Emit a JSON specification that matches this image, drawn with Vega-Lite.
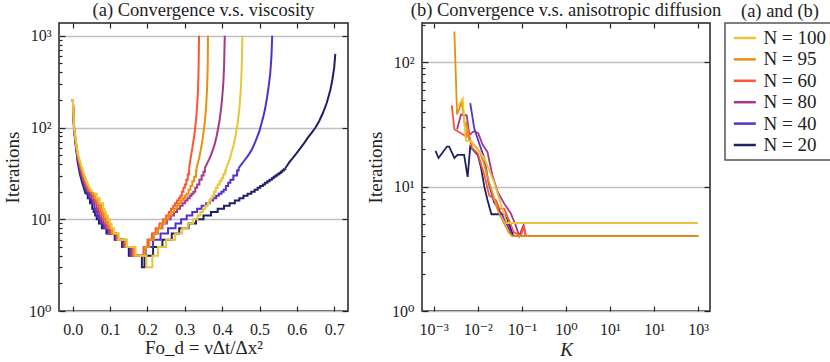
{
  "$schema": "https://vega.github.io/schema/vega-lite/v6.json",
  "padding": {"left": 2, "top": 0, "right": 0, "bottom": 0},
  "config": {
    "font": "Liberation Serif, DejaVu Serif, serif",
    "view": {"stroke": "#222", "strokeWidth": 1.5},
    "text": {"font": "Liberation Serif, DejaVu Serif, serif"},
    "axis": {"labelFont": "Liberation Serif, DejaVu Serif, serif", "labelFontSize": 16, "labelColor": "#222", "titleFont": "Liberation Serif, DejaVu Serif, serif", "titleFontSize": 19, "titleFontWeight": "normal", "titleColor": "#222", "domain": false, "tickColor": "#222", "tickWidth": 1.2, "gridColor": "#c0c0c0", "gridWidth": 1.5},
    "title": {"font": "Liberation Serif, DejaVu Serif, serif", "fontSize": 18.5, "fontWeight": "normal", "color": "#222", "offset": 3}
  },
  "datasets": {
    "visc": [
      {"s":"N = 20","x":0,"y":205},{"s":"N = 20","x":0.001,"y":160},{"s":"N = 20","x":0.002,"y":128},{"s":"N = 20","x":0.003,"y":100},{"s":"N = 20","x":0.005,"y":82},{"s":"N = 20","x":0.007,"y":68},{"s":"N = 20","x":0.009,"y":58},{"s":"N = 20","x":0.011,"y":50},{"s":"N = 20","x":0.013,"y":42},{"s":"N = 20","x":0.016,"y":36},{"s":"N = 20","x":0.019,"y":31},{"s":"N = 20","x":0.022,"y":28},{"s":"N = 20","x":0.025,"y":25},{"s":"N = 20","x":0.028,"y":23},{"s":"N = 20","x":0.031,"y":21},{"s":"N = 20","x":0.034,"y":19},{"s":"N = 20","x":0.04,"y":17},{"s":"N = 20","x":0.046,"y":15},{"s":"N = 20","x":0.052,"y":13},{"s":"N = 20","x":0.056,"y":12},{"s":"N = 20","x":0.06,"y":11},{"s":"N = 20","x":0.064,"y":10},{"s":"N = 20","x":0.07,"y":9},{"s":"N = 20","x":0.078,"y":8},{"s":"N = 20","x":0.09,"y":7},{"s":"N = 20","x":0.112,"y":6},{"s":"N = 20","x":0.132,"y":5},{"s":"N = 20","x":0.15,"y":4},{"s":"N = 20","x":0.185,"y":3},{"s":"N = 20","x":0.192,"y":4},{"s":"N = 20","x":0.215,"y":5},{"s":"N = 20","x":0.24,"y":6},{"s":"N = 20","x":0.265,"y":7},{"s":"N = 20","x":0.285,"y":8},{"s":"N = 20","x":0.31,"y":9},{"s":"N = 20","x":0.33,"y":10},{"s":"N = 20","x":0.35,"y":11},{"s":"N = 20","x":0.37,"y":12},{"s":"N = 20","x":0.388,"y":13},{"s":"N = 20","x":0.405,"y":14},{"s":"N = 20","x":0.42,"y":15},{"s":"N = 20","x":0.434,"y":16},{"s":"N = 20","x":0.446,"y":17},{"s":"N = 20","x":0.457,"y":18},{"s":"N = 20","x":0.468,"y":19},{"s":"N = 20","x":0.478,"y":20},{"s":"N = 20","x":0.487,"y":21},{"s":"N = 20","x":0.495,"y":22},{"s":"N = 20","x":0.502,"y":23},{"s":"N = 20","x":0.509,"y":24},{"s":"N = 20","x":0.515,"y":25},{"s":"N = 20","x":0.521,"y":26},{"s":"N = 20","x":0.527,"y":27},{"s":"N = 20","x":0.533,"y":28},{"s":"N = 20","x":0.538,"y":29},{"s":"N = 20","x":0.543,"y":30},{"s":"N = 20","x":0.548,"y":31},{"s":"N = 20","x":0.553,"y":32},{"s":"N = 20","x":0.557,"y":33},{"s":"N = 20","x":0.561,"y":34},{"s":"N = 20","x":0.565,"y":35},{"s":"N = 20","x":0.569,"y":36},{"s":"N = 20","x":0.575,"y":39},{"s":"N = 20","x":0.58,"y":42},{"s":"N = 20","x":0.59,"y":47},{"s":"N = 20","x":0.6,"y":53},{"s":"N = 20","x":0.61,"y":60},{"s":"N = 20","x":0.62,"y":68},{"s":"N = 20","x":0.63,"y":78},{"s":"N = 20","x":0.64,"y":88},{"s":"N = 20","x":0.65,"y":100},{"s":"N = 20","x":0.66,"y":118},{"s":"N = 20","x":0.67,"y":145},{"s":"N = 20","x":0.68,"y":185},{"s":"N = 20","x":0.69,"y":260},{"s":"N = 20","x":0.695,"y":330},{"s":"N = 20","x":0.7,"y":450},{"s":"N = 20","x":0.703,"y":637},
      {"s":"N = 40","x":0,"y":205},{"s":"N = 40","x":0.0011,"y":160},{"s":"N = 40","x":0.0021,"y":128},{"s":"N = 40","x":0.0032,"y":100},{"s":"N = 40","x":0.0053,"y":82},{"s":"N = 40","x":0.0074,"y":68},{"s":"N = 40","x":0.0095,"y":58},{"s":"N = 40","x":0.0117,"y":50},{"s":"N = 40","x":0.0144,"y":42},{"s":"N = 40","x":0.0178,"y":36},{"s":"N = 40","x":0.0212,"y":31},{"s":"N = 40","x":0.0244,"y":28},{"s":"N = 40","x":0.0278,"y":25},{"s":"N = 40","x":0.031,"y":23},{"s":"N = 40","x":0.0344,"y":21},{"s":"N = 40","x":0.0384,"y":19},{"s":"N = 40","x":0.0448,"y":17},{"s":"N = 40","x":0.0512,"y":15},{"s":"N = 40","x":0.0578,"y":13},{"s":"N = 40","x":0.0618,"y":12},{"s":"N = 40","x":0.0658,"y":11},{"s":"N = 40","x":0.07,"y":10},{"s":"N = 40","x":0.0758,"y":9},{"s":"N = 40","x":0.0832,"y":8},{"s":"N = 40","x":0.094,"y":7},{"s":"N = 40","x":0.1142,"y":6},{"s":"N = 40","x":0.1346,"y":5},{"s":"N = 40","x":0.1536,"y":4},{"s":"N = 40","x":0.195,"y":5},{"s":"N = 40","x":0.215,"y":6},{"s":"N = 40","x":0.235,"y":7},{"s":"N = 40","x":0.255,"y":8},{"s":"N = 40","x":0.275,"y":9},{"s":"N = 40","x":0.29,"y":10},{"s":"N = 40","x":0.305,"y":11},{"s":"N = 40","x":0.32,"y":12},{"s":"N = 40","x":0.333,"y":13},{"s":"N = 40","x":0.345,"y":14},{"s":"N = 40","x":0.357,"y":15},{"s":"N = 40","x":0.367,"y":16},{"s":"N = 40","x":0.376,"y":17},{"s":"N = 40","x":0.384,"y":18},{"s":"N = 40","x":0.391,"y":19},{"s":"N = 40","x":0.398,"y":20},{"s":"N = 40","x":0.404,"y":21},{"s":"N = 40","x":0.41,"y":23},{"s":"N = 40","x":0.416,"y":25},{"s":"N = 40","x":0.422,"y":27},{"s":"N = 40","x":0.43,"y":30},{"s":"N = 40","x":0.44,"y":34},{"s":"N = 40","x":0.444,"y":36},{"s":"N = 40","x":0.45,"y":39},{"s":"N = 40","x":0.46,"y":44},{"s":"N = 40","x":0.467,"y":48},{"s":"N = 40","x":0.473,"y":52},{"s":"N = 40","x":0.48,"y":58},{"s":"N = 40","x":0.49,"y":72},{"s":"N = 40","x":0.5,"y":92},{"s":"N = 40","x":0.505,"y":110},{"s":"N = 40","x":0.51,"y":130},{"s":"N = 40","x":0.515,"y":160},{"s":"N = 40","x":0.52,"y":210},{"s":"N = 40","x":0.525,"y":290},{"s":"N = 40","x":0.529,"y":400},{"s":"N = 40","x":0.532,"y":600},{"s":"N = 40","x":0.534,"y":1000},
      {"s":"N = 80","x":0,"y":205},{"s":"N = 80","x":0.0011,"y":160},{"s":"N = 80","x":0.0022,"y":128},{"s":"N = 80","x":0.0033,"y":100},{"s":"N = 80","x":0.0056,"y":82},{"s":"N = 80","x":0.0078,"y":68},{"s":"N = 80","x":0.01,"y":58},{"s":"N = 80","x":0.0124,"y":50},{"s":"N = 80","x":0.0158,"y":42},{"s":"N = 80","x":0.0196,"y":36},{"s":"N = 80","x":0.0234,"y":31},{"s":"N = 80","x":0.0268,"y":28},{"s":"N = 80","x":0.0306,"y":25},{"s":"N = 80","x":0.034,"y":23},{"s":"N = 80","x":0.0378,"y":21},{"s":"N = 80","x":0.0428,"y":19},{"s":"N = 80","x":0.0496,"y":17},{"s":"N = 80","x":0.0564,"y":15},{"s":"N = 80","x":0.0636,"y":13},{"s":"N = 80","x":0.0676,"y":12},{"s":"N = 80","x":0.0716,"y":11},{"s":"N = 80","x":0.076,"y":10},{"s":"N = 80","x":0.0816,"y":9},{"s":"N = 80","x":0.0884,"y":8},{"s":"N = 80","x":0.098,"y":7},{"s":"N = 80","x":0.1164,"y":6},{"s":"N = 80","x":0.1372,"y":5},{"s":"N = 80","x":0.1572,"y":4},{"s":"N = 80","x":0.19,"y":5},{"s":"N = 80","x":0.203,"y":6},{"s":"N = 80","x":0.216,"y":7},{"s":"N = 80","x":0.228,"y":8},{"s":"N = 80","x":0.24,"y":9},{"s":"N = 80","x":0.252,"y":10},{"s":"N = 80","x":0.262,"y":11},{"s":"N = 80","x":0.271,"y":12},{"s":"N = 80","x":0.279,"y":13},{"s":"N = 80","x":0.287,"y":14},{"s":"N = 80","x":0.294,"y":15},{"s":"N = 80","x":0.301,"y":16},{"s":"N = 80","x":0.307,"y":17},{"s":"N = 80","x":0.313,"y":18},{"s":"N = 80","x":0.318,"y":19},{"s":"N = 80","x":0.323,"y":20},{"s":"N = 80","x":0.328,"y":22},{"s":"N = 80","x":0.333,"y":24},{"s":"N = 80","x":0.339,"y":27},{"s":"N = 80","x":0.345,"y":30},{"s":"N = 80","x":0.35,"y":33},{"s":"N = 80","x":0.3537,"y":36},{"s":"N = 80","x":0.355,"y":37},{"s":"N = 80","x":0.36,"y":41},{"s":"N = 80","x":0.365,"y":45},{"s":"N = 80","x":0.37,"y":50},{"s":"N = 80","x":0.375,"y":57},{"s":"N = 80","x":0.38,"y":66},{"s":"N = 80","x":0.385,"y":80},{"s":"N = 80","x":0.389,"y":97},{"s":"N = 80","x":0.393,"y":120},{"s":"N = 80","x":0.397,"y":160},{"s":"N = 80","x":0.4,"y":210},{"s":"N = 80","x":0.403,"y":300},{"s":"N = 80","x":0.405,"y":450},{"s":"N = 80","x":0.407,"y":1000},
      {"s":"N = 60","x":0,"y":205},{"s":"N = 60","x":0.0012,"y":160},{"s":"N = 60","x":0.0023,"y":128},{"s":"N = 60","x":0.0035,"y":100},{"s":"N = 60","x":0.0059,"y":82},{"s":"N = 60","x":0.0082,"y":68},{"s":"N = 60","x":0.0105,"y":58},{"s":"N = 60","x":0.0131,"y":50},{"s":"N = 60","x":0.0172,"y":42},{"s":"N = 60","x":0.0214,"y":36},{"s":"N = 60","x":0.0256,"y":31},{"s":"N = 60","x":0.0292,"y":28},{"s":"N = 60","x":0.0334,"y":25},{"s":"N = 60","x":0.037,"y":23},{"s":"N = 60","x":0.0412,"y":21},{"s":"N = 60","x":0.0472,"y":19},{"s":"N = 60","x":0.0544,"y":17},{"s":"N = 60","x":0.0616,"y":15},{"s":"N = 60","x":0.0694,"y":13},{"s":"N = 60","x":0.0734,"y":12},{"s":"N = 60","x":0.0774,"y":11},{"s":"N = 60","x":0.082,"y":10},{"s":"N = 60","x":0.0874,"y":9},{"s":"N = 60","x":0.0936,"y":8},{"s":"N = 60","x":0.102,"y":7},{"s":"N = 60","x":0.1186,"y":6},{"s":"N = 60","x":0.1398,"y":5},{"s":"N = 60","x":0.1608,"y":4},{"s":"N = 60","x":0.19,"y":5},{"s":"N = 60","x":0.2,"y":6},{"s":"N = 60","x":0.212,"y":7},{"s":"N = 60","x":0.222,"y":8},{"s":"N = 60","x":0.232,"y":9},{"s":"N = 60","x":0.242,"y":10},{"s":"N = 60","x":0.25,"y":11},{"s":"N = 60","x":0.257,"y":12},{"s":"N = 60","x":0.263,"y":13},{"s":"N = 60","x":0.269,"y":14},{"s":"N = 60","x":0.274,"y":15},{"s":"N = 60","x":0.279,"y":16},{"s":"N = 60","x":0.284,"y":17},{"s":"N = 60","x":0.288,"y":18},{"s":"N = 60","x":0.292,"y":20},{"s":"N = 60","x":0.296,"y":22},{"s":"N = 60","x":0.3,"y":24},{"s":"N = 60","x":0.304,"y":27},{"s":"N = 60","x":0.308,"y":31},{"s":"N = 60","x":0.3115,"y":36},{"s":"N = 60","x":0.315,"y":45},{"s":"N = 60","x":0.318,"y":53},{"s":"N = 60","x":0.321,"y":63},{"s":"N = 60","x":0.324,"y":76},{"s":"N = 60","x":0.327,"y":93},{"s":"N = 60","x":0.329,"y":110},{"s":"N = 60","x":0.331,"y":135},{"s":"N = 60","x":0.333,"y":175},{"s":"N = 60","x":0.335,"y":240},{"s":"N = 60","x":0.336,"y":320},{"s":"N = 60","x":0.337,"y":480},{"s":"N = 60","x":0.338,"y":1000},
      {"s":"N = 95","x":0,"y":205},{"s":"N = 95","x":0.0012,"y":160},{"s":"N = 95","x":0.0024,"y":128},{"s":"N = 95","x":0.0036,"y":100},{"s":"N = 95","x":0.0062,"y":82},{"s":"N = 95","x":0.0086,"y":68},{"s":"N = 95","x":0.011,"y":58},{"s":"N = 95","x":0.0138,"y":50},{"s":"N = 95","x":0.0186,"y":42},{"s":"N = 95","x":0.0232,"y":36},{"s":"N = 95","x":0.0278,"y":31},{"s":"N = 95","x":0.0316,"y":28},{"s":"N = 95","x":0.0362,"y":25},{"s":"N = 95","x":0.04,"y":23},{"s":"N = 95","x":0.0446,"y":21},{"s":"N = 95","x":0.0516,"y":19},{"s":"N = 95","x":0.0592,"y":17},{"s":"N = 95","x":0.0668,"y":15},{"s":"N = 95","x":0.0752,"y":13},{"s":"N = 95","x":0.0792,"y":12},{"s":"N = 95","x":0.0832,"y":11},{"s":"N = 95","x":0.088,"y":10},{"s":"N = 95","x":0.0932,"y":9},{"s":"N = 95","x":0.0988,"y":8},{"s":"N = 95","x":0.106,"y":7},{"s":"N = 95","x":0.1208,"y":6},{"s":"N = 95","x":0.1424,"y":5},{"s":"N = 95","x":0.1644,"y":4},{"s":"N = 95","x":0.193,"y":5},{"s":"N = 95","x":0.205,"y":6},{"s":"N = 95","x":0.217,"y":7},{"s":"N = 95","x":0.228,"y":8},{"s":"N = 95","x":0.238,"y":9},{"s":"N = 95","x":0.248,"y":10},{"s":"N = 95","x":0.256,"y":11},{"s":"N = 95","x":0.264,"y":12},{"s":"N = 95","x":0.271,"y":13},{"s":"N = 95","x":0.278,"y":14},{"s":"N = 95","x":0.284,"y":15},{"s":"N = 95","x":0.29,"y":16},{"s":"N = 95","x":0.295,"y":17},{"s":"N = 95","x":0.3,"y":18},{"s":"N = 95","x":0.305,"y":19},{"s":"N = 95","x":0.31,"y":21},{"s":"N = 95","x":0.315,"y":23},{"s":"N = 95","x":0.32,"y":26},{"s":"N = 95","x":0.325,"y":29},{"s":"N = 95","x":0.33,"y":34},{"s":"N = 95","x":0.3315,"y":36},{"s":"N = 95","x":0.335,"y":41},{"s":"N = 95","x":0.339,"y":48},{"s":"N = 95","x":0.343,"y":58},{"s":"N = 95","x":0.347,"y":72},{"s":"N = 95","x":0.351,"y":95},{"s":"N = 95","x":0.354,"y":120},{"s":"N = 95","x":0.357,"y":170},{"s":"N = 95","x":0.359,"y":240},{"s":"N = 95","x":0.3605,"y":350},{"s":"N = 95","x":0.3615,"y":550},{"s":"N = 95","x":0.362,"y":1000},
      {"s":"N = 100","x":0,"y":205},{"s":"N = 100","x":0.0013,"y":160},{"s":"N = 100","x":0.0025,"y":128},{"s":"N = 100","x":0.0038,"y":100},{"s":"N = 100","x":0.0065,"y":82},{"s":"N = 100","x":0.009,"y":68},{"s":"N = 100","x":0.0115,"y":58},{"s":"N = 100","x":0.0145,"y":50},{"s":"N = 100","x":0.02,"y":42},{"s":"N = 100","x":0.025,"y":36},{"s":"N = 100","x":0.03,"y":31},{"s":"N = 100","x":0.034,"y":28},{"s":"N = 100","x":0.039,"y":25},{"s":"N = 100","x":0.043,"y":23},{"s":"N = 100","x":0.048,"y":21},{"s":"N = 100","x":0.056,"y":19},{"s":"N = 100","x":0.064,"y":17},{"s":"N = 100","x":0.072,"y":15},{"s":"N = 100","x":0.081,"y":13},{"s":"N = 100","x":0.085,"y":12},{"s":"N = 100","x":0.089,"y":11},{"s":"N = 100","x":0.094,"y":10},{"s":"N = 100","x":0.099,"y":9},{"s":"N = 100","x":0.104,"y":8},{"s":"N = 100","x":0.11,"y":7},{"s":"N = 100","x":0.123,"y":6},{"s":"N = 100","x":0.145,"y":5},{"s":"N = 100","x":0.168,"y":4},{"s":"N = 100","x":0.197,"y":3},{"s":"N = 100","x":0.213,"y":4},{"s":"N = 100","x":0.228,"y":5},{"s":"N = 100","x":0.25,"y":6},{"s":"N = 100","x":0.274,"y":7},{"s":"N = 100","x":0.293,"y":8},{"s":"N = 100","x":0.308,"y":9},{"s":"N = 100","x":0.322,"y":10},{"s":"N = 100","x":0.334,"y":11},{"s":"N = 100","x":0.342,"y":12},{"s":"N = 100","x":0.349,"y":13},{"s":"N = 100","x":0.355,"y":14},{"s":"N = 100","x":0.361,"y":15},{"s":"N = 100","x":0.366,"y":16},{"s":"N = 100","x":0.37,"y":17},{"s":"N = 100","x":0.374,"y":18},{"s":"N = 100","x":0.378,"y":20},{"s":"N = 100","x":0.383,"y":22},{"s":"N = 100","x":0.388,"y":24},{"s":"N = 100","x":0.393,"y":26},{"s":"N = 100","x":0.398,"y":28},{"s":"N = 100","x":0.403,"y":31},{"s":"N = 100","x":0.408,"y":34},{"s":"N = 100","x":0.4105,"y":36},{"s":"N = 100","x":0.413,"y":38},{"s":"N = 100","x":0.418,"y":43},{"s":"N = 100","x":0.422,"y":48},{"s":"N = 100","x":0.426,"y":55},{"s":"N = 100","x":0.43,"y":63},{"s":"N = 100","x":0.434,"y":75},{"s":"N = 100","x":0.437,"y":86},{"s":"N = 100","x":0.44,"y":100},{"s":"N = 100","x":0.443,"y":125},{"s":"N = 100","x":0.446,"y":160},{"s":"N = 100","x":0.449,"y":230},{"s":"N = 100","x":0.451,"y":320},{"s":"N = 100","x":0.453,"y":550},{"s":"N = 100","x":0.454,"y":1000}
    ],
    "aniso": [
      {"s":"N = 20","k":0.0011,"y":19.4},{"s":"N = 20","k":0.00129,"y":17},{"s":"N = 20","k":0.002,"y":21},{"s":"N = 20","k":0.00224,"y":21},{"s":"N = 20","k":0.00295,"y":17},{"s":"N = 20","k":0.00347,"y":18},{"s":"N = 20","k":0.0049,"y":18},{"s":"N = 20","k":0.00589,"y":12},{"s":"N = 20","k":0.00676,"y":21},{"s":"N = 20","k":0.00759,"y":20},{"s":"N = 20","k":0.01,"y":18},{"s":"N = 20","k":0.01175,"y":14.5},{"s":"N = 20","k":0.0141,"y":10},{"s":"N = 20","k":0.0166,"y":7.8},{"s":"N = 20","k":0.0204,"y":6},{"s":"N = 20","k":0.0398,"y":6},{"s":"N = 20","k":0.0513,"y":5},{"s":"N = 20","k":0.0646,"y":4},{"s":"N = 20","k":1000,"y":4},
      {"s":"N = 40","k":0.00676,"y":47},{"s":"N = 40","k":0.00832,"y":29.4},{"s":"N = 40","k":0.0107,"y":22.4},{"s":"N = 40","k":0.0141,"y":16.9},{"s":"N = 40","k":0.0174,"y":10.9},{"s":"N = 40","k":0.0234,"y":7.5},{"s":"N = 40","k":0.0363,"y":5.9},{"s":"N = 40","k":0.0562,"y":4.3},{"s":"N = 40","k":0.0617,"y":4},{"s":"N = 40","k":1000,"y":4},
      {"s":"N = 80","k":0.00339,"y":29},{"s":"N = 80","k":0.00417,"y":38},{"s":"N = 80","k":0.00562,"y":37.5},{"s":"N = 80","k":0.00646,"y":26},{"s":"N = 80","k":0.00794,"y":27.8},{"s":"N = 80","k":0.0102,"y":27},{"s":"N = 80","k":0.0129,"y":21.7},{"s":"N = 80","k":0.0166,"y":19},{"s":"N = 80","k":0.0214,"y":12.4},{"s":"N = 80","k":0.0282,"y":9.1},{"s":"N = 80","k":0.0398,"y":7.3},{"s":"N = 80","k":0.0562,"y":6.1},{"s":"N = 80","k":0.0724,"y":4.9},{"s":"N = 80","k":0.0871,"y":4},{"s":"N = 80","k":0.1096,"y":4.9},{"s":"N = 80","k":0.123,"y":4},{"s":"N = 80","k":1000,"y":4},
      {"s":"N = 60","k":0.00257,"y":45},{"s":"N = 60","k":0.00295,"y":29},{"s":"N = 60","k":0.00562,"y":25.2},{"s":"N = 60","k":0.00589,"y":29.6},{"s":"N = 60","k":0.00741,"y":20.4},{"s":"N = 60","k":0.01,"y":18.5},{"s":"N = 60","k":0.0141,"y":12.4},{"s":"N = 60","k":0.0182,"y":8.5},{"s":"N = 60","k":0.0257,"y":7.8},{"s":"N = 60","k":0.0309,"y":6.65},{"s":"N = 60","k":0.0398,"y":6.65},{"s":"N = 60","k":0.0661,"y":4.3},{"s":"N = 60","k":0.0955,"y":4.05},{"s":"N = 60","k":0.112,"y":4.8},{"s":"N = 60","k":0.123,"y":4},{"s":"N = 60","k":1000,"y":4},
      {"s":"N = 95","k":0.00295,"y":177},{"s":"N = 95","k":0.00339,"y":38},{"s":"N = 95","k":0.00437,"y":48},{"s":"N = 95","k":0.00513,"y":30},{"s":"N = 95","k":0.0055,"y":33},{"s":"N = 95","k":0.00631,"y":24},{"s":"N = 95","k":0.00794,"y":22},{"s":"N = 95","k":0.0112,"y":19},{"s":"N = 95","k":0.0141,"y":15},{"s":"N = 95","k":0.0178,"y":11},{"s":"N = 95","k":0.0224,"y":8.5},{"s":"N = 95","k":0.0282,"y":6.5},{"s":"N = 95","k":0.038,"y":5.2},{"s":"N = 95","k":0.0501,"y":4.3},{"s":"N = 95","k":0.0603,"y":4},{"s":"N = 95","k":1000,"y":4},
      {"s":"N = 100","k":0.00339,"y":43},{"s":"N = 100","k":0.00457,"y":51},{"s":"N = 100","k":0.00537,"y":23.4},{"s":"N = 100","k":0.00692,"y":23.4},{"s":"N = 100","k":0.00955,"y":20.6},{"s":"N = 100","k":0.0141,"y":16.9},{"s":"N = 100","k":0.0234,"y":10.9},{"s":"N = 100","k":0.0457,"y":5.1},{"s":"N = 100","k":1000,"y":5.1}
    ],
    "leg": [{"s":"N = 100"},{"s":"N = 95"},{"s":"N = 60"},{"s":"N = 80"},{"s":"N = 40"},{"s":"N = 20"}]
  },
  "spacing": 15,
  "hconcat": [
    {
      "width": 289, "height": 288,
      "title": {"text": "(a) Convergence v.s. viscosity"},
      "data": {"name": "visc"},
      "encoding": {
        "x": {"field": "x", "type": "quantitative", "scale": {"domain": [-0.037, 0.737], "nice": false, "zero": false}},
        "y": {"field": "y", "type": "quantitative", "scale": {"type": "log", "domain": [1, 1380], "nice": false}}
      },
      "layer": [
        {
          "transform": [{"filter": "datum.x < 0.15 && datum.y >= 19"}],
          "mark": {"type": "line", "strokeWidth": 2},
          "encoding": {
            "x": {"field": "x", "type": "quantitative",
                  "axis": {"orient": "bottom", "values": [0, 0.1, 0.2, 0.3, 0.4, 0.5, 0.6, 0.7], "format": ".1f", "tickSize": -5, "labelPadding": 15, "grid": false, "title": "Fo_d = νΔt/Δx²", "titlePadding": 1}},
            "y": {"field": "y", "type": "quantitative",
                  "axis": {"orient": "left", "values": [1,2,3,4,5,6,7,8,9,10,20,30,40,50,60,70,80,90,100,200,300,400,500,600,700,800,900,1000],
                           "labelExpr": "abs(log(datum.value)/LN10 - round(log(datum.value)/LN10)) < 1e-6 ? '10' + ['⁰','¹','²','³'][round(log(datum.value)/LN10)] : ''",
                           "tickSize": {"condition": {"test": "abs(log(datum.value)/LN10 - round(log(datum.value)/LN10)) < 1e-6", "value": -6}, "value": -3},
                           "gridOpacity": {"condition": {"test": "abs(log(datum.value)/LN10 - round(log(datum.value)/LN10)) < 1e-6", "value": 1}, "value": 0},
                           "grid": true, "labelPadding": 14, "title": "Iterations", "titlePadding": 6}},
            "color": {"field": "s", "type": "nominal", "scale": {"domain": ["N = 100","N = 95","N = 60","N = 80","N = 40","N = 20"], "range": ["#e8c63a","#e8900f","#ff5533","#a3398b","#5530cc","#1f1f66"]}, "legend": null}
          }
        },
        {
          "transform": [{"filter": "(datum.x < 0.15 && datum.y <= 19) || (datum.x >= 0.15 && datum.y <= 36)"}],
          "mark": {"type": "line", "interpolate": "step-after", "strokeWidth": 2},
          "encoding": {
            "x": {"field": "x", "type": "quantitative", "axis": null},
            "y": {"field": "y", "type": "quantitative", "axis": null},
            "color": {"field": "s", "type": "nominal", "legend": null}
          }
        },
        {
          "transform": [{"filter": "datum.x >= 0.15 && datum.y >= 36"}],
          "mark": {"type": "line", "strokeWidth": 2},
          "encoding": {
            "x": {"field": "x", "type": "quantitative", "axis": null},
            "y": {"field": "y", "type": "quantitative", "axis": null},
            "color": {"field": "s", "type": "nominal", "legend": null}
          }
        },
        {
          "mark": {"type": "line", "opacity": 0},
          "encoding": {
            "x": {"field": "x", "type": "quantitative", "axis": {"orient": "top", "values": [0, 0.1, 0.2, 0.3, 0.4, 0.5, 0.6, 0.7], "labels": false, "tickSize": -5, "title": null, "grid": false}},
            "y": {"field": "y", "type": "quantitative", "axis": {"orient": "right", "values": [1, 10, 100, 1000], "labels": false, "tickSize": -6, "title": null, "grid": false}}
          }
        }
      ],
      "resolve": {"axis": {"x": "independent", "y": "independent"}}
    },
    {
      "spacing": 15,
      "bounds": "flush",
      "hconcat": [
        {
          "width": 288, "height": 288,
          "title": {"text": "(b) Convergence v.s. anisotropic diffusion"},
          "data": {"name": "aniso"},
          "layer": [
            {
              "mark": {"type": "line", "strokeWidth": 1.8},
              "encoding": {
                "x": {"field": "k", "type": "quantitative", "scale": {"type": "log", "domain": [0.000543, 1862], "nice": false},
                      "axis": {"orient": "bottom", "values": [0.001, 0.01, 0.1, 1, 10, 100, 1000],
                               "labelExpr": "'10' + ['⁻³','⁻²','⁻¹','⁰','¹','¹','³'][round(log(datum.value)/LN10) + 3]",
                               "tickSize": -5, "labelPadding": 15, "grid": false, "title": "K", "titleFontStyle": "italic", "titlePadding": 3}},
                "y": {"field": "y", "type": "quantitative", "scale": {"type": "log", "domain": [1, 207], "nice": false},
                      "axis": {"orient": "left", "values": [1,2,3,4,5,6,7,8,9,10,20,30,40,50,60,70,80,90,100,200],
                               "labelExpr": "abs(log(datum.value)/LN10 - round(log(datum.value)/LN10)) < 1e-6 ? '10' + ['⁰','¹','²','³'][round(log(datum.value)/LN10)] : ''",
                               "tickSize": {"condition": {"test": "abs(log(datum.value)/LN10 - round(log(datum.value)/LN10)) < 1e-6", "value": -6}, "value": -3},
                               "gridOpacity": {"condition": {"test": "abs(log(datum.value)/LN10 - round(log(datum.value)/LN10)) < 1e-6", "value": 1}, "value": 0},
                               "grid": true, "labelPadding": 14, "title": "Iterations", "titlePadding": 6}},
                "color": {"field": "s", "type": "nominal", "legend": null}
              }
            },
            {
              "mark": {"type": "line", "opacity": 0},
              "encoding": {
                "x": {"field": "k", "type": "quantitative", "axis": {"orient": "top", "values": [0.001, 0.01, 0.1, 1, 10, 100, 1000], "labels": false, "tickSize": -5, "title": null, "grid": false}},
                "y": {"field": "y", "type": "quantitative", "axis": {"orient": "right", "values": [1, 10, 100], "labels": false, "tickSize": -6, "title": null, "grid": false}}
              }
            }
          ],
          "resolve": {"axis": {"x": "independent", "y": "independent"}}
        },
        {
          "width": 110, "height": 137,
          "title": {"text": "(a) and (b)"},
          "view": {"stroke": "#555", "strokeWidth": 1.5},
          "data": {"name": "leg"},
          "encoding": {
            "y": {"field": "s", "type": "nominal", "scale": {"type": "point", "domain": ["N = 100","N = 95","N = 60","N = 80","N = 40","N = 20"], "padding": 0.7}, "axis": null}
          },
          "layer": [
            {
              "mark": {"type": "rule", "strokeWidth": 2.5},
              "encoding": {
                "x": {"datum": 0.08, "type": "quantitative", "scale": {"domain": [0, 1]}, "axis": null},
                "x2": {"datum": 0.28},
                "color": {"field": "s", "type": "nominal", "legend": null}
              }
            },
            {
              "mark": {"type": "text", "align": "left", "baseline": "middle", "fontSize": 19, "color": "#222"},
              "encoding": {
                "x": {"datum": 0.35, "type": "quantitative"},
                "text": {"field": "s"}
              }
            }
          ]
        }
      ]
    }
  ]
}
